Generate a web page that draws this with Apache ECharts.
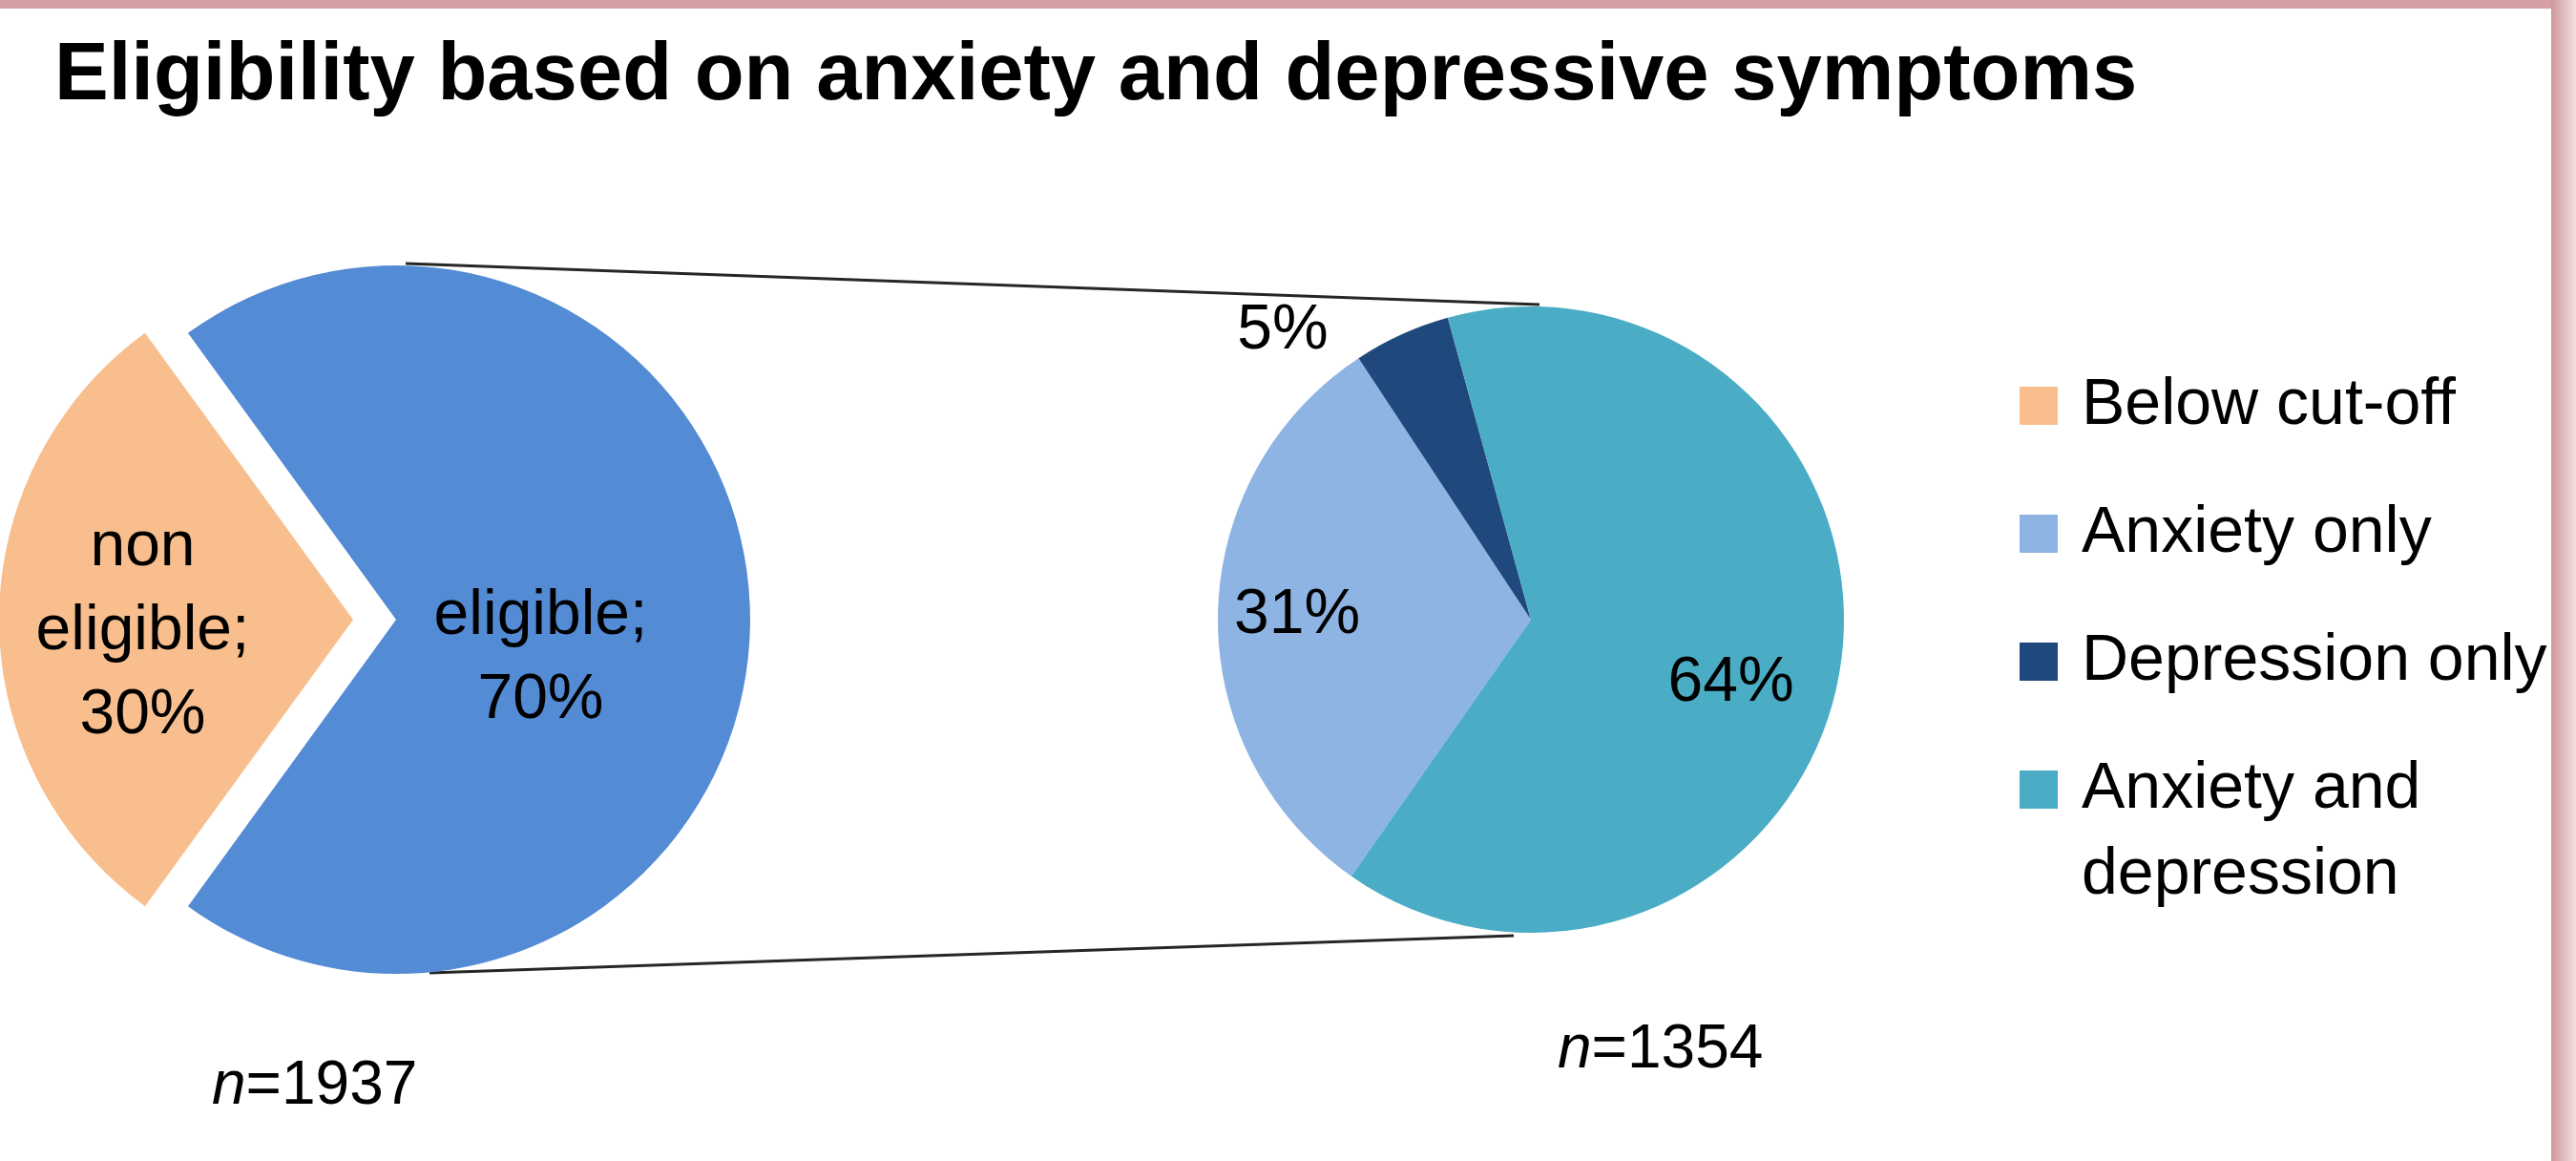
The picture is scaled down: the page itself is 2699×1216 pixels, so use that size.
<!DOCTYPE html>
<html>
<head>
<meta charset="utf-8">
<title>Eligibility based on anxiety and depressive symptoms</title>
<script src="https://cdn.jsdelivr.net/npm/echarts@6/dist/echarts.min.js"></script>
<style>
  html, body { margin: 0; padding: 0; background: #fff; }
  #chart { width: 2699px; height: 1216px; }
</style>
</head>
<body>
<div id="chart"></div>
<script>
// ---- data ----
const eligibilityNames = ['Below cut-off', 'eligible'];
const eligibilityLabels = ['non\neligible;', 'eligible;'];
const eligibilityValues = [30, 70];

const symptomNames = ['Anxiety only', 'Depression only', 'Anxiety and depression'];
const symptomValues = [31, 5, 64];

const sampleSizes = [1937, 1354];
const legendNames = ['Below cut-off', 'Anxiety only', 'Depression only', 'Anxiety and depression'];

// ---- styles / layout ----
const FONT = 'Liberation Sans, Arial, sans-serif';
const eligibilityColors = ['#F8BE8D', '#538BD5'];
const symptomColors = ['#8EB4E3', '#1F497D', '#4BACC6'];
const legendColors = [eligibilityColors[0]].concat(symptomColors);

const LEFT_PIE = { cx: 415, cy: 649, r: 371 };
const RIGHT_PIE = { cx: 1604, cy: 649, r: 328 };

// label nudges (px) so text sits where the original put it
const eligibilityLabelShift = [[-32, 13], [-37, 41]];
const symptomLabelShift = [[-78, -2], [-191, -150], [45, 38]];

const chart = echarts.init(document.getElementById('chart'), null, { renderer: 'canvas' });

// legend squares drawn as rich text so the 2-line item keeps its box on the first line
const legendRich = {
  t: { fontSize: 68, lineHeight: 90, color: '#000', fontFamily: FONT },
  gap: { width: 25 },
  pad: { width: 65 }
};
legendColors.forEach((c, i) => {
  legendRich['sq' + i] = { width: 40, height: 40, backgroundColor: c };
});

function nLabel(n) {
  return '{i|n}{r|=' + n + '}';
}
const nRich = {
  i: { fontSize: 64, lineHeight: 76, fontStyle: 'italic', fontWeight: 'normal', color: '#000', fontFamily: FONT },
  r: { fontSize: 64, lineHeight: 76, fontWeight: 'normal', color: '#000', fontFamily: FONT }
};

const option = {
  backgroundColor: '#fff',
  animation: false,
  title: [
    {
      text: 'Eligibility based on anxiety and depressive symptoms',
      left: 57,
      top: 29,
      padding: 0,
      textStyle: { fontSize: 85, lineHeight: 104, fontWeight: 'bold', color: '#000', fontFamily: FONT }
    },
    {
      text: nLabel(sampleSizes[0]),
      left: 222,
      top: 1100,
      padding: 0,
      textStyle: { fontWeight: 'normal', rich: nRich }
    },
    {
      text: nLabel(sampleSizes[1]),
      left: 1632,
      top: 1062,
      padding: 0,
      textStyle: { fontWeight: 'normal', rich: nRich }
    }
  ],
  legend: {
    orient: 'vertical',
    left: 2111,
    top: 380,
    padding: 0,
    itemWidth: 0,
    itemHeight: 0,
    itemGap: 44,
    selectedMode: false,
    data: legendNames,
    textStyle: { fontSize: 68, lineHeight: 90, fontFamily: FONT, color: '#000', rich: legendRich },
    formatter: function (name) {
      const i = legendNames.indexOf(name);
      const lines = name === 'Anxiety and depression' ? ['Anxiety and', 'depression'] : [name];
      return lines.map((l, k) => (k === 0 ? '{sq' + i + '|}{gap|}' : '{pad|}') + '{t|' + l + '}').join('\n');
    }
  },
  graphic: [
    // pink frame of the slide
    { type: 'rect', left: 0, top: 0, z: 100, shape: { width: 2699, height: 9 }, style: { fill: '#D4A0A4' } },
    {
      type: 'rect', left: 2673, top: 0, z: 100,
      shape: { width: 26, height: 1216 },
      style: {
        fill: new echarts.graphic.LinearGradient(0, 0, 1, 0, [
          { offset: 0, color: '#CF989C' },
          { offset: 1, color: '#F3DFE0' }
        ])
      }
    },
    // connector lines between the two pies
    {
      type: 'line', z: 0,
      shape: {
        x1: LEFT_PIE.cx + 10, y1: LEFT_PIE.cy - LEFT_PIE.r - 2,
        x2: RIGHT_PIE.cx + 9, y2: RIGHT_PIE.cy - RIGHT_PIE.r - 2
      },
      style: { stroke: '#262626', lineWidth: 3 }
    },
    {
      type: 'line', z: 0,
      shape: {
        x1: LEFT_PIE.cx + 35, y1: LEFT_PIE.cy + LEFT_PIE.r - 1,
        x2: RIGHT_PIE.cx - 18, y2: RIGHT_PIE.cy + RIGHT_PIE.r + 3
      },
      style: { stroke: '#262626', lineWidth: 3 }
    }
  ],
  series: [
    {
      name: 'Eligibility',
      type: 'pie',
      center: [LEFT_PIE.cx, LEFT_PIE.cy],
      radius: LEFT_PIE.r,
      startAngle: 234,
      clockwise: true,
      selectedMode: 'single',
      selectedOffset: 45,
      avoidLabelOverlap: false,
      emphasis: { disabled: true },
      select: { itemStyle: { borderWidth: 0 } },
      labelLine: { show: false },
      label: {
        show: true,
        position: 'inside',
        fontSize: 66,
        lineHeight: 88,
        color: '#000',
        fontFamily: FONT,
        formatter: p => eligibilityLabels[p.dataIndex] + '\n' + p.value + '%'
      },
      labelLayout: p => ({ dx: eligibilityLabelShift[p.dataIndex][0], dy: eligibilityLabelShift[p.dataIndex][1] }),
      data: eligibilityValues.map((v, i) => ({
        name: eligibilityNames[i],
        value: v,
        selected: i === 0,
        itemStyle: { color: eligibilityColors[i] }
      }))
    },
    {
      name: 'Symptoms',
      type: 'pie',
      center: [RIGHT_PIE.cx, RIGHT_PIE.cy],
      radius: RIGHT_PIE.r,
      startAngle: 235,
      clockwise: true,
      avoidLabelOverlap: false,
      emphasis: { disabled: true },
      labelLine: { show: false },
      label: {
        show: true,
        position: 'inside',
        fontSize: 66,
        color: '#000',
        fontFamily: FONT,
        formatter: p => p.value + '%'
      },
      labelLayout: p => ({ dx: symptomLabelShift[p.dataIndex][0], dy: symptomLabelShift[p.dataIndex][1] }),
      data: symptomValues.map((v, i) => ({
        name: symptomNames[i],
        value: v,
        itemStyle: { color: symptomColors[i] }
      }))
    }
  ]
};

chart.setOption(option);
window.addEventListener('resize', () => chart.resize());
</script>
</body>
</html>
